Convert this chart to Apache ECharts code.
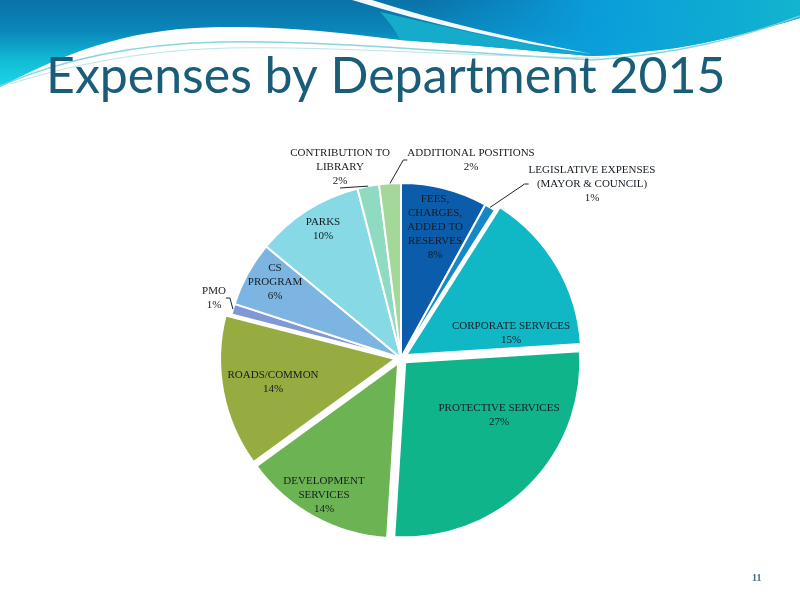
<!DOCTYPE html>
<html>
<head>
<meta charset="utf-8">
<script src="https://cdn.jsdelivr.net/npm/echarts@6/dist/echarts.min.js"></script>
<style>
  html, body { margin: 0; padding: 0; background: #ffffff; }
  #chart { width: 800px; height: 598px; }
</style>
</head>
<body>
<div id="chart"></div>
<script>
// ---- data ----
const categories = [
  'FEES, CHARGES, ADDED TO RESERVES',
  'LEGISLATIVE EXPENSES (MAYOR & COUNCIL)',
  'CORPORATE SERVICES',
  'PROTECTIVE SERVICES',
  'DEVELOPMENT SERVICES',
  'ROADS/COMMON',
  'PMO',
  'CS PROGRAM',
  'PARKS',
  'CONTRIBUTION TO LIBRARY',
  'ADDITIONAL POSITIONS'
];
const values = [8, 1, 15, 27, 14, 14, 1, 6, 10, 2, 2];
const labelTexts = [
  'FEES,\nCHARGES,\nADDED TO\nRESERVES',
  'LEGISLATIVE EXPENSES\n(MAYOR & COUNCIL)',
  'CORPORATE SERVICES',
  'PROTECTIVE SERVICES',
  'DEVELOPMENT\nSERVICES',
  'ROADS/COMMON',
  'PMO',
  'CS\nPROGRAM',
  'PARKS',
  'CONTRIBUTION TO\nLIBRARY',
  'ADDITIONAL POSITIONS'
];
const explodedSlices = ['CORPORATE SERVICES', 'PROTECTIVE SERVICES', 'DEVELOPMENT SERVICES', 'ROADS/COMMON'];
const outsideLabels = ['LEGISLATIVE EXPENSES (MAYOR & COUNCIL)', 'PMO', 'CONTRIBUTION TO LIBRARY', 'ADDITIONAL POSITIONS'];

// ---- styles ----
const sliceColors = ['#0b5dab', '#1588c8', '#10b8c6', '#10b48a', '#6cb453', '#96ab40',
                     '#8098d6', '#7db5e2', '#87dae5', '#8edbc1', '#a3d898'];
// label block centres (layout only)
const labelCenters = [
  [435, 227], [592, 184], [511, 333], [499, 415], [324, 495], [273, 382],
  [214, 298], [275, 282], [323, 229], [340, 167], [471, 160]
];
const PIE_CENTER = [401, 358];
const PIE_RADIUS = 175;

const chart = echarts.init(document.getElementById('chart'), null, { renderer: 'canvas' });

// visible slices (with exploded pieces)
const sliceData = categories.map((c, i) => ({
  name: c,
  value: values[i],
  selected: explodedSlices.includes(c),
  itemStyle: { color: sliceColors[i] }
}));

// label carrier (same geometry, transparent)
const labelData = categories.map((c, i) => {
  const outside = outsideLabels.includes(c);
  return {
    name: c,
    value: values[i],
    itemStyle: { color: 'rgba(0,0,0,0)', borderWidth: 0 },
    label: { position: outside ? 'outside' : 'inside' },
    labelLine: { show: outside, length: 8, length2: 4, lineStyle: { color: '#222222', width: 1 } }
  };
});

// decorative header (background artwork, not data)
function renderHeader() {
  return {
    type: 'group',
    silent: true,
    children: [
      {
        type: 'path',
        shape: { pathData: 'M0 0 H800 V18 C760 30 700 46 660 50 C630 53 610 56 592 56 C540 52 470 44 400 40 C340 32 280 26 220 27 C140 28 80 45 0 87 Z' },
        style: {
          fill: new echarts.graphic.LinearGradient(0, 0, 0, 87, [
            { offset: 0, color: '#0a72a8' },
            { offset: 0.35, color: '#0a86ba' },
            { offset: 0.7, color: '#12bcd6' },
            { offset: 1, color: '#1cd8e8' }
          ], true)
        }
      },
      {
        type: 'path',
        shape: { pathData: 'M420 0 H800 V18 C760 30 700 46 660 50 C630 53 610 56 592 56 C540 52 470 44 420 41 Z' },
        style: {
          fill: new echarts.graphic.LinearGradient(420, 0, 800, 0, [
            { offset: 0, color: 'rgba(10,150,215,0)' },
            { offset: 0.45, color: 'rgba(10,158,220,0.95)' },
            { offset: 1, color: 'rgba(18,180,206,1)' }
          ], true)
        }
      },
      {
        type: 'path',
        shape: { pathData: 'M380 12 C450 28 520 44 592 56 C530 50 470 45 400 40 C395 30 388 20 380 12 Z' },
        style: { fill: '#14acca' }
      },
      {
        type: 'path',
        shape: { pathData: 'M352 0 L372 0 C440 22 520 40 592 54 C510 42 430 24 352 0 Z' },
        style: { fill: '#ffffff', opacity: 0.95 }
      },
      {
        type: 'path',
        shape: { pathData: 'M0 86 C60 60 130 44 220 42 C320 40 450 52 592 60 C680 54 740 38 800 16' },
        style: { fill: 'none', stroke: '#7ccfdb', lineWidth: 1.5, opacity: 0.9 }
      },
      {
        type: 'path',
        shape: { pathData: 'M10 84 C80 62 150 50 230 48 C330 46 460 56 600 58' },
        style: { fill: 'none', stroke: '#a8dde3', lineWidth: 1, opacity: 0.8 }
      }
    ]
  };
}

const option = {
  backgroundColor: '#ffffff',
  animation: false,
  graphic: [
    {
      type: 'text', z: 5, silent: true,
      left: 46, top: 52,
      style: {
        text: 'Expenses by Department 2015',
        fill: '#1a5d79',
        font: 'normal 50px Lato'
      }
    },
    {
      type: 'text', z: 5, silent: true,
      left: 752, top: 573,
      style: {
        text: '11',
        fill: '#3f7088',
        font: 'bold 10px "Liberation Serif"'
      }
    }
  ],
  series: [
    {
      type: 'custom',
      coordinateSystem: 'none',
      silent: true,
      z: 0,
      data: [[0]],
      renderItem: renderHeader
    },
    {
      type: 'pie',
      z: 2,
      center: PIE_CENTER,
      radius: PIE_RADIUS,
      startAngle: 90,
      clockwise: true,
      selectedMode: 'multiple',
      selectedOffset: 6,
      silent: true,
      emphasis: { scale: false },
      itemStyle: { borderColor: '#ffffff', borderWidth: 2 },
      label: { show: false },
      labelLine: { show: false },
      data: sliceData
    },
    {
      type: 'pie',
      z: 4,
      center: PIE_CENTER,
      radius: PIE_RADIUS,
      startAngle: 90,
      clockwise: true,
      selectedMode: false,
      avoidLabelOverlap: false,
      silent: true,
      emphasis: { scale: false },
      label: {
        show: true,
        fontFamily: 'Liberation Serif',
        fontSize: 11,
        lineHeight: 14,
        color: '#151c22',
        align: 'center',
        formatter: (p) => labelTexts[p.dataIndex] + '\n' + p.value + '%'
      },
      labelLayout: (p) => ({
        x: labelCenters[p.dataIndex][0],
        y: labelCenters[p.dataIndex][1],
        align: 'center',
        verticalAlign: 'middle'
      }),
      data: labelData
    }
  ]
};

chart.setOption(option);
</script>
</body>
</html>
